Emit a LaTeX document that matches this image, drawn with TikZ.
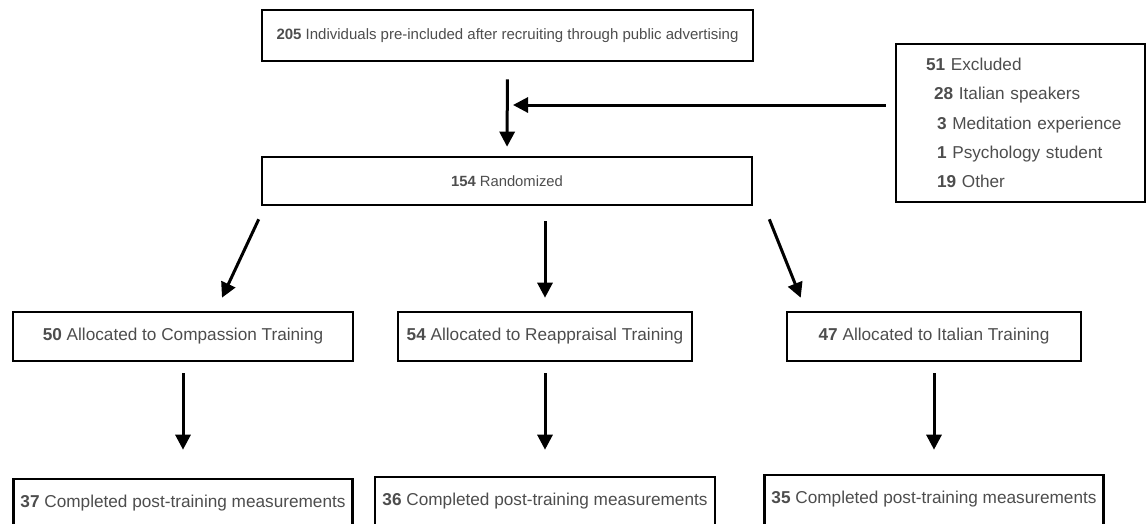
\documentclass[tikz,border=0pt]{standalone}
\usepackage{fontspec}
\setmainfont{Liberation Sans}
\usetikzlibrary{arrows.meta}
\definecolor{txtgray}{HTML}{4D4D4D}

\begin{document}
\begin{tikzpicture}[x=1pt,y=-1pt,
  box/.style={draw=black, line width=2.6pt, inner sep=0pt, text=txtgray,
    font=\fontsize{17.2}{20}\selectfont},
  cutbox/.style={box, minimum height=58pt, text depth=12.5pt},
  arr/.style={-{Triangle[width=15pt,length=15pt]}, line width=3pt}]
\clip (0,0) rectangle (1147,523);
\node[box, minimum width=491pt, minimum height=51pt, font=\fontsize{15}{18}\selectfont] (pre) at (507.5,35.5) {\textbf{205} Individuals pre-included after recruiting through public advertising};
\node[box, minimum width=490pt, minimum height=48pt, font=\fontsize{14.8}{18}\selectfont] (rand) at (507,181) {\textbf{154} Randomized};
\node[box, minimum width=249pt, minimum height=158pt, align=left, text width=219pt, inner xsep=15pt, font=\fontsize{17.2}{29.2}\selectfont] (excl) at (1020.5,123)
  {\hspace*{15pt}\textbf{51} Excluded\\
   \hspace*{23pt}\textbf{28} Italian speakers\\
   \hspace*{26pt}\textbf{3} Meditation experience\\
   \hspace*{26pt}\textbf{1} Psychology student\\
   \hspace*{26pt}\textbf{19} Other};
\node[box, minimum width=340pt, minimum height=49pt] (comp) at (183,336.5) {\textbf{50} Allocated to Compassion Training};
\node[box, minimum width=294pt, minimum height=49pt] (reap) at (545,336.5) {\textbf{54} Allocated to Reappraisal Training};
\node[box, minimum width=294pt, minimum height=49pt] (ital) at (934,336.5) {\textbf{47} Allocated to Italian Training};
\node[cutbox, minimum width=339pt] (compdone) at (183,508) {\textbf{37} Completed post-training measurements};
\node[cutbox, minimum width=340pt] (reapdone) at (545,506) {\textbf{36} Completed post-training measurements};
\node[cutbox, minimum width=339pt] (italdone) at (934,504) {\textbf{35} Completed post-training measurements};
\coordinate (join) at (507,105);

\draw[arr, shorten <=17pt, shorten >=9pt] (pre.south) -- (rand.north);
\draw[arr, shorten <=9pt, shorten >=6pt] (excl.west |- join) -- (join);
\draw[arr] ([shift={(-2,13)}]rand.south west) -- ([shift={(39,-13)}]comp.north);
\draw[arr, shorten <=15pt, shorten >=13pt] (reap.north |- rand.south) -- (reap.north);
\draw[arr] ([shift={(16,13)}]rand.south east) -- ([shift={(15,-13)}]ital.north west);
\draw[arr, shorten <=11pt, shorten >=28pt] (comp.south) -- (compdone.north);
\draw[arr, shorten <=11pt, shorten >=26pt] (reap.south) -- (reapdone.north);
\draw[arr, shorten <=11pt, shorten >=24pt] (ital.south) -- (italdone.north);
\end{tikzpicture}
\end{document}
